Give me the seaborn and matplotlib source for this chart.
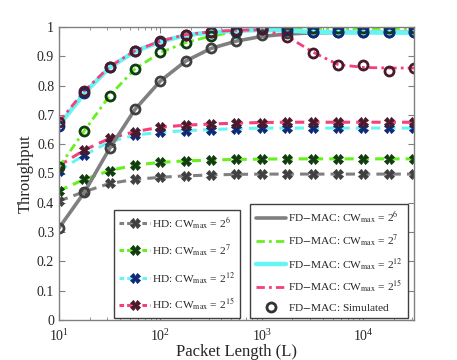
import numpy as np
import seaborn as sns
import matplotlib
matplotlib.use("Agg")
import matplotlib.pyplot as plt
from matplotlib.lines import Line2D

# packet lengths (0.25 decade steps from 10 to ~3.2e4)
L = [10, 17.8, 31.6, 56.2, 100, 178, 316, 562, 1000, 1778, 3162, 5623, 10000, 17783, 31623]

# HD (half duplex) throughput
hd_6 = [0.406, 0.438, 0.466, 0.480, 0.487, 0.492, 0.495, 0.497, 0.498, 0.498, 0.498, 0.498, 0.498, 0.498, 0.498]
hd_7 = [0.441, 0.480, 0.510, 0.529, 0.538, 0.543, 0.546, 0.548, 0.549, 0.550, 0.550, 0.550, 0.550, 0.550, 0.550]
hd_12 = [0.510, 0.563, 0.608, 0.631, 0.641, 0.646, 0.650, 0.653, 0.655, 0.655, 0.655, 0.655, 0.655, 0.655, 0.655]
hd_15 = [0.527, 0.580, 0.620, 0.643, 0.658, 0.665, 0.669, 0.672, 0.674, 0.675, 0.675, 0.675, 0.675, 0.675, 0.675]

# FD-MAC analytical throughput
fd_6 = [0.314, 0.436, 0.586, 0.719, 0.816, 0.884, 0.927, 0.952, 0.968, 0.976, 0.980, 0.981, 0.982, 0.982, 0.982]
fd_7 = [0.522, 0.646, 0.766, 0.857, 0.913, 0.947, 0.969, 0.984, 0.992, 0.995, 0.995, 0.995, 0.995, 0.995, 0.995]
fd_12 = [0.664, 0.774, 0.862, 0.917, 0.950, 0.972, 0.982, 0.987, 0.990, 0.988, 0.983, 0.982, 0.981, 0.981, 0.980]
fd_15 = [0.676, 0.782, 0.865, 0.919, 0.952, 0.974, 0.984, 0.989, 0.990, 0.968, 0.915, 0.872, 0.862, 0.860, 0.860]

# FD-MAC simulated points
sim_6 = [0.314, 0.436, 0.586, 0.719, 0.816, 0.884, 0.927, 0.952, 0.973, 0.978, 0.982, 0.982, 0.982, 0.982, 0.982]
sim_7 = [0.522, 0.646, 0.766, 0.857, 0.913, 0.947, 0.969, 0.984, 0.995, 0.995, 0.995, 0.995, 0.995, 0.995, 0.995]
sim_12 = [0.662, 0.774, 0.862, 0.917, 0.950, 0.972, 0.982, 0.986, 0.992, 0.990, 0.982, 0.982, 0.982, 0.982, 0.982]
sim_15 = [0.676, 0.782, 0.865, 0.919, 0.952, 0.974, 0.984, 0.990, 0.992, 0.966, 0.911, 0.870, 0.870, 0.851, 0.860]

exps = ["6", "7", "12", "15"]
line_colors = ["#808080", "#66f01e", "#66f5f5", "#f5407a"]
mark_colors = ["#404040", "#103c10", "#0c2a78", "#4a1a2c"]

sns.set_style("ticks")
plt.rcParams["font.family"] = ["Liberation Serif", "DejaVu Serif"]
plt.rcParams["mathtext.fontset"] = "stix"

fig = plt.figure(figsize=(4.57, 3.6), dpi=100)
ax = fig.add_axes([59 / 457, 1 - 320 / 360, 355 / 457, 293 / 360])

hd_handles = []
for vals, lc, mc, e in zip([hd_6, hd_7, hd_12, hd_15], line_colors, mark_colors, exps):
    sns.lineplot(x=L, y=vals, ax=ax, color=lc, linewidth=2.2, linestyle=(0, (3, 2)),
                 marker="X", markersize=7, markerfacecolor=mc, markeredgecolor=mc,
                 markeredgewidth=0.6)
    hd_handles.append(Line2D([], [], color=lc, linewidth=2.2, linestyle=(0, (1.5, 1)),
                             marker="X", markersize=6.5, markerfacecolor=mc,
                             markeredgecolor=mc, markeredgewidth=0.6,
                             label=r"HD: CW$_{\mathrm{max}}$ = 2$^{%s}$" % e))

fd_styles = ["-", (0, (3, 1.5, 1, 1.5)), "-", (0, (3, 1.5, 1, 1.5))]
fd_widths = [2.6, 2.0, 3.2, 2.0]
fd_handles = []
for vals, lc, ls, lw, e in zip([fd_6, fd_7, fd_12, fd_15], line_colors, fd_styles, fd_widths, exps):
    sns.lineplot(x=L, y=vals, ax=ax, color=lc, linewidth=lw, linestyle=ls)
    fd_handles.append(Line2D([], [], color=lc, linewidth=lw, linestyle=ls,
                             label=r"FD$-$MAC: CW$_{\mathrm{max}}$ = 2$^{%s}$" % e))

for vals, mc in zip([sim_6, sim_7, sim_12, sim_15], mark_colors):
    ax.plot(L, vals, linestyle="none", marker="o", markersize=6.5,
            markerfacecolor="none", markeredgecolor=mc, markeredgewidth=2)
fd_handles.append(Line2D([], [], linestyle="none", marker="o", markersize=6.5,
                         markerfacecolor="none", markeredgecolor="#333333",
                         markeredgewidth=2, label=r"FD$-$MAC: Simulated"))

ax.set_xscale("log")
ax.set_xlim(10, 10 ** 4.5)
ax.set_ylim(0, 1)
ax.set_yticks(np.arange(0, 1.01, 0.1))
ax.set_yticklabels(["0", "0.1", "0.2", "0.3", "0.4", "0.5", "0.6", "0.7", "0.8", "0.9", "1"])
ax.set_xlabel("Packet Length (L)", fontsize=12, labelpad=0)
ax.set_ylabel("Throughput", fontsize=12, labelpad=2)
ax.tick_params(which="both", direction="in", top=True, right=True, color="#808080",
               labelsize=10)
ax.tick_params(axis="x", pad=5.5)
ax.tick_params(which="major", length=4)
ax.tick_params(which="minor", length=2)
for sp in ax.spines.values():
    sp.set_color("#808080")
    sp.set_linewidth(1)

leg_kw = dict(fontsize=8.2, frameon=True, fancybox=False, edgecolor="#404040",
              framealpha=1, handlelength=2.7, handletextpad=0.15,
              borderpad=0.45, borderaxespad=0)
leg1 = ax.legend(handles=hd_handles, loc="lower left", bbox_to_anchor=(0.155, 0.007),
                 labelspacing=0.95, **leg_kw)
leg1.get_frame().set_linewidth(1)
ax.add_artist(leg1)
leg2 = ax.legend(handles=fd_handles, loc="lower right", bbox_to_anchor=(0.983, 0.007),
                 labelspacing=0.6, **leg_kw)
leg2.get_frame().set_linewidth(1)

plt.savefig("out.png", dpi=100)
